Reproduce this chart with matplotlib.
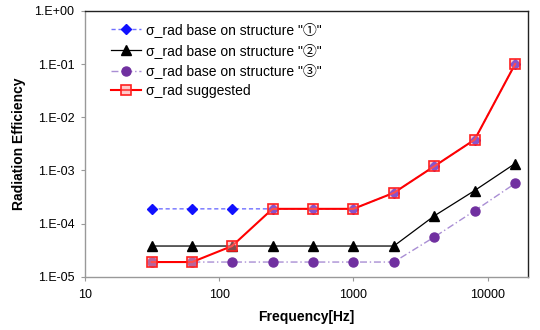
import numpy as np
import matplotlib
matplotlib.use('Agg')
import matplotlib.pyplot as plt
from matplotlib.ticker import FuncFormatter, FixedLocator, NullLocator

plt.rcParams['font.family'] = ['Liberation Sans', 'Noto Sans CJK SC', 'DejaVu Sans']

# 频率 (Hz)
freq = [31.5, 63, 125, 250, 500, 1000, 2000, 4000, 8000, 16000]

# 各结构辐射效率
rad_s1 = [1.9e-4, 1.9e-4, 1.9e-4, 1.9e-4, 1.9e-4, 1.9e-4, 3.8e-4, 1.2e-3, 3.8e-3, 1.0e-1]
rad_s2 = [3.8e-5, 3.8e-5, 3.8e-5, 3.8e-5, 3.8e-5, 3.8e-5, 3.8e-5, 1.4e-4, 4.2e-4, 1.35e-3]
rad_s3 = [1.9e-5, 1.9e-5, 1.9e-5, 1.9e-5, 1.9e-5, 1.9e-5, 1.9e-5, 5.6e-5, 1.75e-4, 5.7e-4]
rad_sug = [1.9e-5, 1.9e-5, 3.8e-5, 1.9e-4, 1.9e-4, 1.9e-4, 3.8e-4, 1.2e-3, 3.8e-3, 1.0e-1]

labels = ['σ_rad base on structure "①"',
          'σ_rad base on structure "②"',
          'σ_rad base on structure "③"',
          'σ_rad suggested']

fig = plt.figure(figsize=(5.4, 3.3), dpi=100)
ax = fig.add_axes([0.157, 0.161, 0.821, 0.806])

ax.plot(freq, rad_s1, color='#6f6fff', ls=(0, (3, 2)), lw=1,
        marker='D', ms=5, mfc='#1010ff', mec='#1010ff', label=labels[0], zorder=3)
ax.plot(freq, rad_s2, color='black', ls='-', lw=0.9,
        marker='^', ms=7, mfc='black', mec='black', label=labels[1], zorder=2)
ax.plot(freq, rad_s3, color='#a98ed4', ls=(0, (5, 2, 1, 2)), lw=1,
        marker='o', ms=6.5, mfc='#7030a0', mec='#7030a0', label=labels[2], zorder=2)
ax.plot(freq, rad_sug, color='#ff0000', ls='-', lw=1.5,
        marker='s', ms=7, mfc=(1, 0.6, 0.6, 0.5), mec='#ff2020', mew=1.2,
        label=labels[3], zorder=4)

ax.set_xscale('log')
ax.set_yscale('log')
ax.set_xlim(10, 20000)
ax.set_ylim(1e-5, 1)

ax.xaxis.set_major_locator(FixedLocator([10, 100, 1000, 10000]))
ax.xaxis.set_minor_locator(NullLocator())
ax.xaxis.set_major_formatter(FuncFormatter(lambda v, p: '%d' % v))
ax.yaxis.set_major_locator(FixedLocator([1e-5, 1e-4, 1e-3, 1e-2, 1e-1, 1]))
ax.yaxis.set_minor_locator(NullLocator())

def fmt_y(v, p):
    e = int(round(np.log10(v)))
    return '1.E%+03d' % e

ax.yaxis.set_major_formatter(FuncFormatter(fmt_y))
ax.tick_params(axis='both', labelsize=9, length=3, width=0.8, color='#999999', direction='out')
ax.tick_params(axis='x', pad=6)
ax.tick_params(axis='y', pad=4.5)

for side in ['left', 'bottom']:
    ax.spines[side].set_color('#999999')
    ax.spines[side].set_linewidth(1)
for side in ['top', 'right']:
    ax.spines[side].set_color('#222222')
    ax.spines[side].set_linewidth(1)

ax.set_xlabel('Frequency[Hz]', fontsize=10, fontweight='bold', labelpad=6)
ax.set_ylabel('Radiation Efficiency', fontsize=10, fontweight='bold', labelpad=6)

ax.legend(loc='upper left', bbox_to_anchor=(0.04, 0.99), frameon=False, fontsize=10,
          handlelength=2.2, handletextpad=0.3, labelspacing=0.42, borderaxespad=0.2)

fig.savefig('out.png', dpi=100)
